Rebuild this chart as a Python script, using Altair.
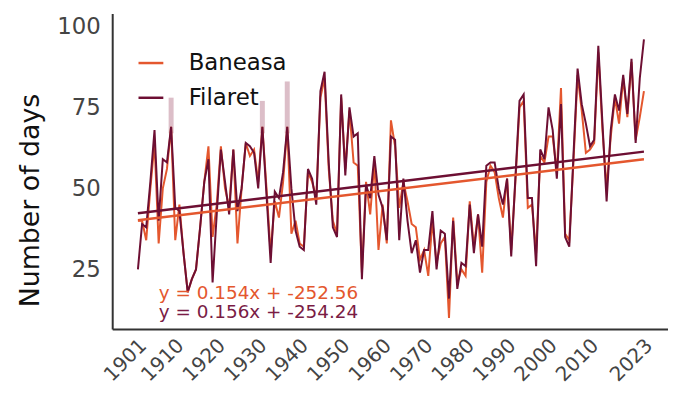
import altair as alt
import pandas as pd

years = list(range(1901, 2024))
baneasa = [40, 40, 34, 50, 64, 33, 50, 56, 69, 34,
           45, 30, 18, 22, 25, 38, 52, 63, 35, 45,
           63, 50, 44, 62, 33, 50, 64, 60, 62, 52,
           69, 50, 30, 46, 41, 52, 69, 36, 40, 33,
           32, 55, 52, 47, 78, 84, 56, 40, 36, 78,
           56, 74, 58, 57, 24, 52, 42, 58, 31, 45,
           33, 71, 63, 44, 52, 46, 39, 38, 28, 31,
           23, 40, 27, 33, 35, 10, 41, 21, 25, 23,
           46, 32, 42, 24, 52, 57, 55, 47, 41, 53,
           31, 52, 75, 77, 44, 45, 30, 60, 58, 66,
           66, 55, 81, 36, 34, 58, 85, 74, 61, 62,
           64, 92, 68, 50, 66, 78, 70, 84, 72, 89,
           65, 72, 80]
filaret = [25, 39, 38, 52, 68, 40, 59, 58, 69, 44,
           43, 30, 18, 22, 25, 38, 52, 59, 21, 42,
           62, 52, 42, 62, 43, 50, 64, 63, 61, 50,
           69, 48, 27, 49, 47, 55, 69, 50, 37, 32,
           31, 56, 53, 45, 80, 86, 58, 38, 35, 79,
           54, 75, 66, 67, 22, 51, 47, 60, 48, 44,
           34, 66, 65, 34, 53, 40, 30, 34, 24, 31,
           31, 43, 25, 37, 36, 16, 40, 19, 27, 26,
           45, 30, 42, 32, 57, 58, 58, 50, 45, 53,
           29, 53, 77, 79, 47, 47, 26, 62, 59, 75,
           68, 53, 76, 35, 32, 60, 87, 76, 70, 63,
           65, 94, 70, 46, 68, 79, 74, 85, 73, 90,
           64, 84, 96]

stations = ["Baneasa", "Filaret"]
colors = ["#e4572e", "#6d0f33"]
text_colors = ["#e4572e", "#7a1c45"]
slopes = [0.154, 0.156]
intercepts = [-252.56, -254.24]
trend_years = [1901, 2023]

spike_years = [1909, 1931, 1937]
spike_low = [67, 67, 67]
spike_high = [78, 77, 83]

x_ticks = [1901, 1910, 1920, 1930, 1940, 1950, 1960, 1970, 1980, 1990, 2000, 2010, 2023]
y_ticks = [25, 50, 75, 100]

FONT = "DejaVu Sans"

series = pd.DataFrame({
    "year": years * 2,
    "station": [stations[0]] * len(years) + [stations[1]] * len(years),
    "value": baneasa + filaret,
})
trend = pd.DataFrame({
    "year": trend_years * 2,
    "station": [stations[0]] * 2 + [stations[1]] * 2,
    "slope": [slopes[0]] * 2 + [slopes[1]] * 2,
    "intercept": [intercepts[0]] * 2 + [intercepts[1]] * 2,
})
spikes = pd.DataFrame({"year": spike_years, "low": spike_low, "high": spike_high})

x_scale = alt.Scale(domain=[1894.8, 2028.8], nice=False, zero=False)
y_scale = alt.Scale(domain=[6.6, 104], nice=False, zero=False)
color_scale = alt.Scale(domain=stations, range=colors)

x_axis = alt.Axis(values=x_ticks, format="d", labelAngle=315, labelAlign="right",
                  labelBaseline="top", labelFontSize=20, labelColor="#444444",
                  ticks=False, labelPadding=6, labelOffset=-2, labelOverlap=False,
                  grid=False, title=None,
                  domainColor="#333333", domainWidth=2, labelFont=FONT)
y_axis = alt.Axis(values=y_ticks, labelFontSize=23, labelColor="#444444",
                  ticks=False, labelPadding=12, grid=False, title="Number of days",
                  titleFontSize=27, titleFontWeight="normal", titleColor="#111111",
                  titleX=-82, titleY=188, titleAlign="center", titleBaseline="middle",
                  titleAngle=270,
                  domainColor="#333333", domainWidth=2,
                  labelFont=FONT, titleFont=FONT)

spike_layer = alt.Chart(spikes).mark_rule(color="#c493a3", strokeWidth=5, opacity=0.6).encode(
    x=alt.X("year:Q", scale=x_scale, axis=x_axis),
    y=alt.Y("low:Q", scale=y_scale, axis=y_axis),
    y2="high:Q",
)

lines = alt.Chart(series).mark_line(strokeWidth=2, strokeJoin="miter").encode(
    x=alt.X("year:Q", scale=x_scale, axis=x_axis),
    y=alt.Y("value:Q", scale=y_scale, axis=y_axis),
    color=alt.Color("station:N", scale=color_scale,
                    legend=alt.Legend(title=None, orient="none", legendX=25, legendY=36,
                                      labelFontSize=23, labelFont=FONT, labelColor="#111111",
                                      symbolType="stroke", symbolSize=625,
                                      symbolStrokeWidth=2.5, labelOffset=24,
                                      rowPadding=9, padding=0)),
    detail="station:N",
)

trend_lines = alt.Chart(trend).transform_calculate(
    fit="datum.slope * datum.year + datum.intercept"
).mark_line(strokeWidth=2.5).encode(
    x=alt.X("year:Q", scale=x_scale, axis=x_axis),
    y=alt.Y("fit:Q", scale=y_scale, axis=y_axis),
    color=alt.Color("station:N", scale=color_scale),
    detail="station:N",
)

eq_texts = [f"y = {s}x + {i}" for s, i in zip(slopes, intercepts)]
eq_y = [288, 307]
texts = []
for t, c, yy in zip(eq_texts, text_colors, eq_y):
    texts.append(
        alt.Chart(pd.DataFrame({"label": [t]})).mark_text(
            align="left", baseline="alphabetic", fontSize=18.5, font=FONT, color=c
        ).encode(x=alt.value(47), y=alt.value(yy), text="label:N")
    )

chart = alt.layer(spike_layer, lines, trend_lines, *texts).properties(
    width=560, height=318,
    padding={"left": 105, "top": 4, "right": 0, "bottom": 62},
    autosize=alt.AutoSizeParams(type="none"),
    background="white",
).configure_view(stroke=None)

chart.save("out.html", embed_options={"renderer": "svg", "actions": False})
